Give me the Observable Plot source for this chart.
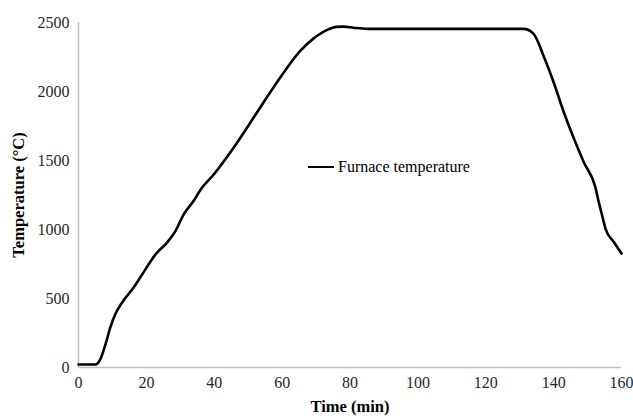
<!DOCTYPE html>
<html>
<head>
<meta charset="utf-8">
<script src="https://cdn.jsdelivr.net/npm/d3@7"></script>
<script src="https://cdn.jsdelivr.net/npm/@observablehq/plot@0.6"></script>
<style>
  html, body { margin: 0; padding: 0; background: #fff; }
  #wrap { position: relative; width: 633px; height: 416px; }
  #legend { position: absolute; left: 308px; top: 158px; display: flex; align-items: center;
    font-family: "Liberation Serif", "DejaVu Serif", serif; font-size: 16px; color: #000; }
  #legend .sw { width: 26px; height: 0; border-top: 2.6px solid #000; margin-right: 4px; }
</style>
</head>
<body>
<div id="wrap">
  <div id="legend"><span class="sw"></span><span>Furnace temperature</span></div>
</div>
<script>
const seriesName = "Furnace temperature";
const timeMin = [0, 5, 6.5, 8, 9.4, 10.9, 12.4, 13.4, 16.3, 19.2, 22.7, 26.1, 28.6, 31, 34, 36, 39.9, 45.8, 53.6, 59.5, 65.4, 69.3, 73.3, 76, 78.2, 81, 85, 131.2, 134.1, 137.1, 140, 143, 146, 148.9, 152.3, 153.3, 154.3, 155.3, 157.8, 160];
const tempC = [22, 22, 63, 172, 292, 389, 455, 490, 582, 691, 820, 905, 990, 1110, 1210, 1290, 1400, 1596, 1886, 2104, 2297, 2385, 2447, 2468, 2470, 2462, 2454, 2454, 2418, 2254, 2067, 1850, 1657, 1487, 1306, 1198, 1101, 1005, 908, 826];
const xTicks = [0, 20, 40, 60, 80, 100, 120, 140, 160];
const yTicks = [0, 500, 1000, 1500, 2000, 2500];

const data = timeMin.map((t, i) => ({t, v: tempC[i]}));

const chart = Plot.plot({
  width: 633,
  height: 416,
  marginLeft: 78,
  marginRight: 12,
  marginTop: 22,
  marginBottom: 49,
  style: {fontFamily: "'Liberation Serif', 'DejaVu Serif', serif", fontSize: "16px", color: "#262626", background: "#fff"},
  x: {domain: [0, 160]},
  y: {domain: [0, 2500]},
  marks: [
    Plot.axisX({ticks: xTicks, tickFormat: d => String(d), tickSize: 0, tickPadding: 9, fontSize: 16, label: null}),
    Plot.axisY({ticks: yTicks, tickFormat: d => String(d), tickSize: 0, tickPadding: 9, fontSize: 16, label: null}),
    Plot.axisX({ticks: [], tickSize: 0, label: "Time (min)", labelAnchor: "center", labelArrow: "none", labelOffset: 44, fontSize: 16.5, fontWeight: "bold", fill: "#000"}),
    Plot.axisY({ticks: [], tickSize: 0, label: "Temperature (°C)", labelAnchor: "center", labelArrow: "none", labelOffset: 66, fontSize: 16.5, fontWeight: "bold", fill: "#000"}),
    Plot.ruleY([0], {stroke: "#bfbfbf", strokeWidth: 1.5}),
    Plot.ruleX([0], {stroke: "#bfbfbf", strokeWidth: 1.5}),
    Plot.line(data, {x: "t", y: "v", stroke: "#000", strokeWidth: 2.6, curve: "monotone-x"})
  ]
});
document.getElementById("wrap").prepend(chart);
</script>
</body>
</html>
